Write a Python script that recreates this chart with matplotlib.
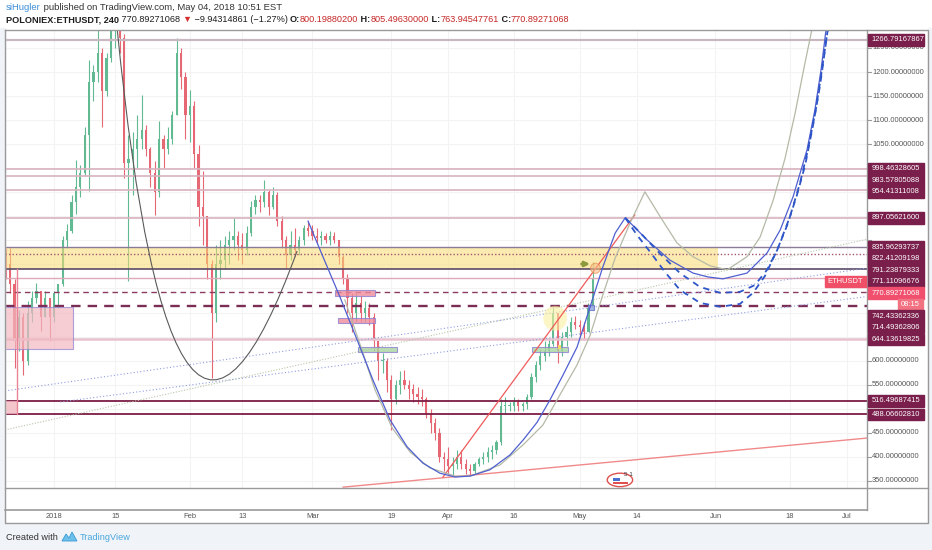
import matplotlib
matplotlib.use("Agg")
import matplotlib.pyplot as plt
from matplotlib.patches import Rectangle, Ellipse, PathPatch, Polygon
from matplotlib.path import Path

plt.rcParams["font.family"] = ["Liberation Sans", "DejaVu Sans"]

W, H = 932, 550

# ─── Candles (daily bars), day 0 = 2018-01-01 ─────────────────────────────────
first_day = -11
first_open = 810
highs = [835, 835, 770, 705, 700, 725, 745, 762, 745, 745, 730,
         745, 760, 860, 885, 945, 1017, 1007, 1085, 1225, 1215, 1300, 1250, 1240,
         1320, 1330, 1310, 1280, 1070, 1075, 1110, 1152, 1090, 1045, 1015, 1098,
         1070, 1085, 1120, 1271, 1250, 1200, 1162, 1140, 1048, 994, 900, 810, 840,
         850, 860, 870, 897, 870, 865, 880, 932, 944, 945, 975, 955, 960, 950, 900,
         860, 870, 876, 860, 882, 890, 882, 875, 870, 865, 870, 868, 850, 820, 780,
         740, 740, 735, 725, 720, 700, 640, 615, 605, 570, 560, 578, 580, 560, 552,
         545, 540, 525, 500, 480, 460, 410, 420, 400, 414, 414, 395, 385, 390, 400,
         410, 420, 425, 435, 520, 525, 515, 525, 520, 515, 530, 575, 600, 625, 640,
         645, 711, 700, 660, 672, 690, 692, 685, 680, 720, 805]
lows = [770, 740, 585, 620, 570, 590, 680, 720, 662, 690, 640,
        680, 710, 755, 835, 865, 905, 940, 985, 952, 1140, 1180, 1085, 1150,
        1220, 1250, 1240, 980, 766, 945, 1000, 1040, 1025, 960, 903, 940,
        1000, 1030, 1050, 1110, 1165, 1060, 1055, 1000, 880, 840, 770, 564, 680,
        770, 790, 800, 830, 810, 800, 820, 860, 905, 910, 920, 903, 915, 880, 835,
        793, 810, 815, 820, 840, 860, 850, 845, 840, 845, 840, 845, 800, 760, 700,
        660, 680, 680, 680, 675, 620, 560, 575, 535, 456, 510, 530, 540, 520, 515,
        510, 505, 480, 450, 435, 390, 370, 365, 360, 375, 375, 365, 362, 365, 380,
        385, 390, 395, 405, 425, 490, 495, 495, 495, 495, 500, 520, 555, 580, 600,
        610, 630, 595, 610, 630, 650, 665, 650, 643, 670, 705]
closes = [800, 760, 640, 690, 600, 700, 730, 745, 690, 730, 690,
          740, 760, 850, 870, 930, 960, 990, 1070, 1180, 1200, 1240, 1160, 1230,
          1300, 1310, 1270, 1010, 1020, 1040, 1060, 1080, 1040, 990, 950, 1060,
          1040, 1060, 1110, 1240, 1190, 1110, 1130, 1030, 920, 900, 800, 700, 800,
          810, 840, 850, 860, 840, 830, 865, 920, 935, 930, 950, 920, 945, 890, 850,
          820, 840, 830, 850, 875, 870, 860, 855, 860, 850, 860, 850, 815, 770, 730,
          700, 720, 700, 710, 690, 640, 600, 600, 560, 520, 550, 560, 550, 540, 530,
          525, 520, 490, 470, 450, 400, 395, 380, 385, 400, 385, 375, 370, 385, 395,
          400, 410, 415, 430, 505, 505, 505, 515, 505, 510, 525, 565, 590, 610, 620,
          635, 700, 620, 650, 660, 680, 675, 670, 660, 710, 771]

# ─── Horizontal levels ────────────────────────────────────────────────────────
top_level = 1266.79167867
pink_levels = [998.46328605, 983.57805088, 954.41311008, 897.05621600]
zone_top = 835.96293737
zone_mid = 822.41209198
zone_bottom = 791.23879333
thin_level = 771.11096676
dash_levels = [742.43362336, 714.49362806]
support_level = 644.13619825
low_levels = [516.49687415, 488.06602810]
last_price = 770.89271068
countdown = "08:15"

# ─── Drawings (day, price) ────────────────────────────────────────────────────
cup1_ctrl_days = [14.4, 27.1, 55.5]
cup1_ctrl_prices = [1291.6, 116.7, 828.0]

blue_days = [58.0, 61.4, 65.3, 69.2, 72.8, 76.7, 80.6, 84.2, 88.1, 91.6, 95.0,
             99.5, 104.1, 107.1, 110.3, 113.2, 116.2, 119.4, 122.4, 125.3, 128.1,
             130.4, 135.4, 140.6, 145.9, 149.3, 152.7, 158.2, 162.8, 165.8, 168.7,
             171.9, 173.7, 175.1, 176.3]
blue_prices = [890, 816, 732, 643, 560, 477, 421, 387, 366, 358, 360,
               373, 404, 435, 472, 518, 570, 628, 712, 795, 865,
               897, 851, 809, 782, 774, 770, 782, 824, 872, 940,
               1038, 1121, 1204, 1292]

dash_in_days = [130.4, 133.6, 138.4, 142.9, 147.5, 152.1, 156.6, 160.0, 162.8,
                165.1, 167.4, 169.6, 171.5, 173.3, 174.9, 176.7]
dash_in_prices = [897, 868, 822, 782, 753, 741, 743, 757, 789,
                  830, 882, 944, 1007, 1090, 1173, 1292]
dash_out_days = [130.4, 133.1, 136.1, 139.5, 142.9, 147.5, 152.1, 156.6, 159.6,
                 162.3, 165.1, 168.0, 170.3, 172.1, 173.9, 175.3, 176.7]
dash_out_prices = [897, 861, 826, 784, 747, 720, 712, 718, 741,
                   776, 830, 899, 969, 1038, 1121, 1204, 1292]

gray_days = [66.4, 69.9, 73.3, 77.2, 81.3, 85.8, 91.6, 95.0, 101.8, 107.1, 111.6,
             115.5, 119.4, 122.4, 125.3, 128.1, 131.5, 134.9, 138.4, 142.2, 145.9,
             149.8, 153.7, 158.2, 161.2, 164.2, 166.9, 169.2, 171.2, 173.1]
gray_prices = [726, 633, 539, 460, 410, 377, 360, 360, 383, 425, 466,
               529, 591, 653, 737, 813, 886, 951, 899, 845, 816,
               797, 789, 816, 857, 934, 1021, 1115, 1208, 1292]

red_trend_days = [88.8, 132.6]
red_trend_prices = [358, 903]
red_support_days = [66.0, 185.6]
red_support_prices = [337, 439]
dot_a_days = [-11.2, 185.4]
dot_a_prices = [537, 792]
dot_b_days = [1.4, 185.4]
dot_b_prices = [514, 733]
dot_c_days = [-11.2, 185.4]
dot_c_prices = [456, 852]

# rectangles: (day0, day1, price0, price1)
zone_days = [-11.3, 151.6]
pink_box = [-11.3, 4.3, 624, 711]
corner_box = [-11.3, -8.4, 488.07, 516.5]
corner_line_day = -8.4
march_pink = [[64.2, 73.3, 734, 747], [64.8, 73.3, 678, 689]]
green_boxes = [[69.4, 78.3, 618, 628], [109.1, 117.4, 618, 628]]
small_blue_box = [121.9, 123.3, 705, 716]

# ─── Axes labels ──────────────────────────────────────────────────────────────
price_ticks = list(range(350, 1251, 50))
date_ticks = [0, 14, 31, 43, 59, 77, 90, 105, 120, 133, 151, 168, 181]
date_labels = ["2018", "15", "Feb", "13", "Mar", "19", "Apr", "16", "May",
               "14", "Jun", "18", "Jul"]

UP, DOWN = "#62ba93", "#e56874"
MAROON = "#7a1e4b"

fig = plt.figure(figsize=(W / 100, H / 100), dpi=100)
fig.patch.set_facecolor("white")

# main price pane, placed in pixel units
left, right, top, bottom = 4.5, 867, 30, 488
ax = fig.add_axes([left / W, 1 - bottom / H, (right - left) / W, (bottom - top) / H])
ax.set_xlim(-11.3, 185.6)
ax.set_ylim(335.2, 1287.4)
ax.set_axis_off()
ax.add_patch(Rectangle((0, 0), 1, 1, transform=ax.transAxes, color="white", zorder=-5))

for p in price_ticks:
    ax.axhline(p, color="#f3f3f3", lw=0.8, zorder=0)
for d in date_ticks:
    ax.axvline(d, color="#f3f3f3", lw=0.8, zorder=0)

# candles
days = [first_day + i for i in range(len(closes))]
opens = [first_open] + closes[:-1]
cols = [UP if c >= o else DOWN for o, c in zip(opens, closes)]
ax.vlines(days, lows, highs, colors=cols, lw=0.8, zorder=1)
ax.bar(days, [max(abs(c - o), 2) for o, c in zip(opens, closes)],
       bottom=[min(o, c) for o, c in zip(opens, closes)],
       width=0.5, color=cols, linewidth=0, zorder=1)

# levels
ax.axhline(top_level, color="#c9b8c1", lw=1.6, zorder=2)
for p in pink_levels:
    ax.axhline(p, color="#d8b2bf", lw=1.2, zorder=2)
ax.add_patch(Rectangle((zone_days[0], zone_bottom), zone_days[1] - zone_days[0],
                       zone_top - zone_bottom, facecolor="#fbdc72", alpha=0.55,
                       edgecolor="none", zorder=2))
ax.axhline(zone_top, color="#8a7c96", lw=1.0, zorder=2)
ax.axhline(zone_mid, color="#a3566f", lw=1.0, ls=(0, (1, 1.5)), zorder=2)
ax.axhline(zone_bottom, color="#5b4b68", lw=1.2, zorder=2)
ax.axhline(thin_level, color="#dfa9b8", lw=1.0, zorder=2)
ax.axhline(dash_levels[0], color="#8b3a62", lw=1.0, ls=(0, (4, 3)), zorder=2)
ax.axhline(dash_levels[1], color="#7b2d55", lw=1.7, ls=(0, (4, 3)), zorder=2)
ax.axhline(support_level, color="#e6c2cf", lw=1.8, zorder=2)
for p in low_levels:
    ax.axhline(p, color="#7b1c44", lw=1.3, zorder=2)

# trend lines
ax.plot(dot_a_days, dot_a_prices, color="#8f9ee0", lw=0.8, ls=(0, (1, 2)), zorder=2)
ax.plot(dot_b_days, dot_b_prices, color="#8f9ee0", lw=0.8, ls=(0, (1, 2)), zorder=2)
ax.plot(dot_c_days, dot_c_prices, color="#b9c7a9", lw=0.8, ls=(0, (1, 1.5)), zorder=2)
ax.plot(red_support_days, red_support_prices, color="#f08a8a", lw=1.0, zorder=3)
ax.plot(red_trend_days, red_trend_prices, color="#ef5a5a", lw=0.9, zorder=4)


# boxes
def box(b, fc, ec, alpha):
    ax.add_patch(Rectangle((b[0], b[2]), b[1] - b[0], b[3] - b[2], facecolor=fc,
                           edgecolor=ec, lw=0.8, alpha=alpha, zorder=3))


box(pink_box, "#f2b8c0", "#8d80d3", 0.7)
box(corner_box, "#f2b8c0", "none", 0.8)
ax.plot([corner_line_day, corner_line_day], [corner_box[2], zone_bottom],
        color="#e98596", lw=1.0, zorder=3)
for b in march_pink:
    box(b, "#f08c9b", "#8d80d3", 0.8)
for b in green_boxes:
    box(b, "#a9d5a0", "#8d80d3", 0.8)
box(small_blue_box, "#9fb2e6", "#6f7fc8", 0.9)
ax.add_patch(Ellipse((114.4, 688), 5.4, 52, facecolor="#fbf0a0", alpha=0.6,
                     edgecolor="none", zorder=3))
ax.add_patch(Rectangle((115.0, 624), 0.8, 8, facecolor="#f6d86a", zorder=3))

# curves
cup1 = Path(list(zip(cup1_ctrl_days, cup1_ctrl_prices)),
            [Path.MOVETO, Path.CURVE3, Path.CURVE3])
ax.add_patch(PathPatch(cup1, facecolor="none", edgecolor="#5a5a5a", lw=0.8, zorder=4))
ax.plot(gray_days, gray_prices, color="#b4baa6", lw=0.9, zorder=4)
ax.plot(blue_days, blue_prices, color="#4f5fd0", lw=0.9, zorder=4)
ax.plot(dash_in_days, dash_in_prices, color="#2f56c8", lw=1.3, ls=(0, (3.5, 3)), zorder=4)
ax.plot(dash_out_days, dash_out_prices, color="#2f56c8", lw=1.3, ls=(0, (3.5, 3)), zorder=4)

# markers near the last candle
ax.annotate("", xy=(123.0, 801), xytext=(119.8, 801),
            arrowprops=dict(arrowstyle="-|>", color="#8c9a3c", lw=2.0,
                            mutation_scale=7), zorder=5)
ax.add_patch(Ellipse((123.6, 792), 2.2, 21, facecolor="#f7c08a", alpha=0.6,
                     edgecolor="#e8894a", lw=0.8, zorder=5))
# event flag
ax.add_patch(Ellipse((129.2, 352), 5.8, 28, facecolor="white", edgecolor="#e05050",
                     lw=1.0, zorder=5))
ax.add_patch(Rectangle((127.6, 350), 1.6, 7, facecolor="#4a6fd0", zorder=6))
ax.add_patch(Rectangle((127.6, 344), 3.4, 3, facecolor="#e05050", zorder=6))
ax.text(130.1, 360, "5 1", fontsize=4.5, color="#333333", zorder=6)

# ─── Overlay in pixel units: frame, axes, header, footer ──────────────────────
ov = fig.add_axes([0, 0, 1, 1], zorder=5)
ov.set_xlim(0, W)
ov.set_ylim(H, 0)
ov.set_axis_off()
ov.patch.set_alpha(0)

BG = "#f0f3f7"
ov.add_patch(Rectangle((0, 523), W, H - 523, color=BG, zorder=0))
ov.add_patch(Rectangle((0, 28), left, 495, color=BG, zorder=0))
ov.add_patch(Rectangle((928, 28), W - 928, 495, color=BG, zorder=0))

FRAME = "#9a9a9a"
ov.plot([left, 928, 928, left, left], [top, top, 523, 523, top], color=FRAME, lw=1.0)
ov.plot([right, right], [top, 510], color=FRAME, lw=1.0)
ov.plot([left, 928], [bottom, bottom], color=FRAME, lw=1.0)
ov.plot([left, right], [510, 510], color=FRAME, lw=1.2)


def py(p):
    return H - ax.transData.transform((0, p))[1]


def px(d):
    return ax.transData.transform((d, 0))[0]


TXT = dict(fontsize=5.4, va="center", family=["Liberation Sans", "DejaVu Sans"])

labels = [(top_level, f"{top_level:.8f}", MAROON)]
labels += [(p, f"{p:.8f}", MAROON) for p in pink_levels]
labels += [(zone_top, f"{zone_top:.8f}", MAROON), (zone_mid, f"{zone_mid:.8f}", MAROON),
           (zone_bottom, f"{zone_bottom:.8f}", MAROON),
           (thin_level, f"{thin_level:.8f}", MAROON),
           (last_price, f"{last_price:.8f}", "#f0506e"),
           (last_price, countdown, "#f27282")]
labels += [(p, f"{p:.8f}", MAROON) for p in dash_levels]
labels += [(support_level, f"{support_level:.8f}", MAROON)]
labels += [(p, f"{p:.8f}", MAROON) for p in low_levels]

prev = -100
label_y = []
for p, text, color in labels:
    y = max(py(p), prev + 11.5)
    prev = y
    label_y.append(y)
    if text == countdown:
        ov.add_patch(Rectangle((898, y - 5.8), 25, 11.6, color=color, zorder=3))
        ov.text(910.5, y, text, color="white", ha="center", zorder=4, **TXT)
    else:
        ov.add_patch(Rectangle((right + 1, y - 5.8), 56, 11.6, color=color, zorder=3))
        ov.text(right + 4.5, y, text, color="white", zorder=4, **TXT)

# plain ticks: the text is covered wherever a level label sits
for p in price_ticks:
    y = py(p)
    ov.plot([right, right + 4], [y, y], color=FRAME, lw=0.8)
    if min(abs(y - ly) for ly in label_y) > 7.5:
        ov.text(right + 5, y, f"{p:.8f}", color="#555555", zorder=2, **TXT)

# symbol label next to the axis
y_sym = label_y[8]
ov.add_patch(Rectangle((825, y_sym - 5.8), 41, 11.6, color="#ef5067", zorder=3))
ov.text(845.5, y_sym, "ETHUSDT", color="white", ha="center", zorder=4, **TXT)

for d, lab in zip(date_ticks, date_labels):
    ov.text(px(d), 517, lab, color="#555555", ha="center", **TXT)

# header
renderer = fig.canvas.get_renderer()


def segments(x, y, parts, size):
    for text, color, weight in parts:
        t = ov.text(x, y, text, color=color, fontsize=size, fontweight=weight,
                    va="center", ha="left", family=["Liberation Sans", "DejaVu Sans"])
        bb = t.get_window_extent(renderer=renderer)
        x += bb.width


RED = "#c62828"
segments(6, 8, [("siHugler", "#3b8ed8", "normal"),
                (" published on TradingView.com, May 04, 2018 10:51 EST", "#333333", "normal")], 6.8)
segments(6, 19.5, [("POLONIEX:ETHUSDT, 240", "#1e1e1e", "bold"),
                   (" 770.89271068 ", "#1e1e1e", "normal"),
                   ("▼", "#d32f2f", "normal"),
                   (" −9.94314861 (−1.27%) ", "#1e1e1e", "normal"),
                   ("O:", "#1e1e1e", "bold"), ("800.19880200", RED, "normal"),
                   (" H:", "#1e1e1e", "bold"), ("805.49630000", RED, "normal"),
                   (" L:", "#1e1e1e", "bold"), ("763.94547761", RED, "normal"),
                   (" C:", "#1e1e1e", "bold"), ("770.89271068", RED, "normal")], 6.6)

# footer
ov.text(6, 537, "Created with", color="#333333", fontsize=6.6, va="center",
        family=["Liberation Sans", "DejaVu Sans"])
ov.add_patch(Polygon([(62, 541), (66, 534), (69, 538), (72, 532), (77, 541)],
                     closed=True, facecolor="#6cc0ea", edgecolor="#3a9ad6", lw=0.6))
ov.text(80, 537, "TradingView", color="#49a8e0", fontsize=6.6, va="center",
        family=["Liberation Sans", "DejaVu Sans"])

fig.savefig("out.png", dpi=100)
